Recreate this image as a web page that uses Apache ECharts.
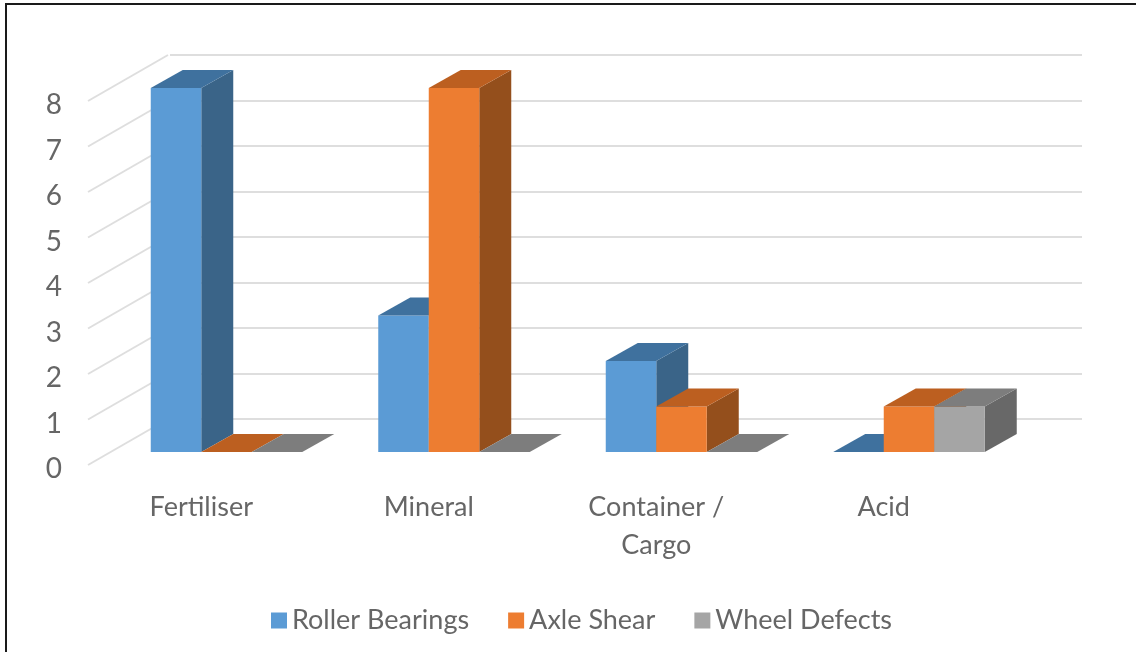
<!DOCTYPE html>
<html>
<head>
<meta charset="utf-8">
<style>html,body{margin:0;padding:0;background:#fff}#chart{width:1136px;height:652px}</style>
<script src="https://cdn.jsdelivr.net/npm/echarts@6/dist/echarts.min.js"></script>
</head>
<body>
<div id="chart"></div>
<script>
const categories = ['Fertiliser', 'Mineral', 'Container /\nCargo', 'Acid'];
const rollerBearings = [8, 3, 2, 0];
const axleShear = [0, 8, 1, 1];
const wheelDefects = [0, 0, 0, 1];
const yTicks = [0, 1, 2, 3, 4, 5, 6, 7, 8];

const FONT = 'Lato, "Open Sans", sans-serif';
const TEXT = '#666666';
const GRID_LINE = '#dedede';
// Oblique projection used for the bar depth and for the side wall.
const BAR_W = 50.5, BAR_DX = 32, BAR_DY = -18;
const WALL_DX = 80, WALL_DY = -46;
// Tick labels sit slightly below the start of their wall lines.
const LABEL_DROP = 4;

function barSeries(name, data, slot, front, top, side) {
  return {
    name,
    type: 'custom',
    xAxisIndex: 0,
    yAxisIndex: 0,
    silent: true,
    z: 5 + slot,
    itemStyle: { color: front },
    data: data.map((v, i) => [i, v]),
    encode: { x: 0, y: 1 },
    renderItem(params, api) {
      const tip = api.coord([api.value(0), api.value(1)]);
      const base = api.coord([api.value(0), 0]);
      const x0 = tip[0] - BAR_W + slot * BAR_W;
      const x1 = x0 + BAR_W;
      const poly = (points, fill) => ({
        type: 'polygon',
        shape: { points },
        style: { fill, stroke: null }
      });
      const children = [];
      if (api.value(1) > 0) {
        children.push(poly([[x1, tip[1]], [x1 + BAR_DX, tip[1] + BAR_DY], [x1 + BAR_DX, base[1] + BAR_DY], [x1, base[1]]], side));
        children.push(poly([[x0, tip[1]], [x1, tip[1]], [x1, base[1]], [x0, base[1]]], front));
      }
      children.push(poly([[x0, tip[1]], [x1, tip[1]], [x1 + BAR_DX, tip[1] + BAR_DY], [x0 + BAR_DX, tip[1] + BAR_DY]], top));
      return { type: 'group', children };
    }
  };
}

// Receding gridlines on the left wall, one per tick.
const wallSeries = {
  type: 'custom',
  xAxisIndex: 2,
  yAxisIndex: 2,
  silent: true,
  z: 1,
  data: yTicks.map(v => [0, v]),
  encode: { x: 0, y: 1 },
  renderItem(params, api) {
    const p = api.coord([0, api.value(1)]);
    const y = p[1] - LABEL_DROP;
    return {
      type: 'line',
      shape: { x1: p[0], y1: y, x2: p[0] + WALL_DX, y2: y + WALL_DY },
      style: { stroke: GRID_LINE, lineWidth: 2 }
    };
  }
};

const chart = echarts.init(document.getElementById('chart'), null, { renderer: 'canvas' });
chart.setOption({
  animation: false,
  backgroundColor: '#ffffff',
  graphic: [{
    type: 'rect',
    shape: { x: 6, y: 4, width: 1300, height: 800 },
    style: { fill: 'none', stroke: '#1a1a1a', lineWidth: 2 },
    silent: true
  }],
  legend: {
    left: 266,
    top: 602,
    itemWidth: 16,
    itemHeight: 16,
    itemGap: 39,
    icon: 'rect',
    selectedMode: false,
    textStyle: { fontFamily: FONT, fontSize: 27, color: TEXT },
    data: ['Roller Bearings', 'Axle Shear', 'Wheel Defects']
  },
  grid: [
    { left: 87.5, width: 910, top: 88, height: 364 },   // bar plane
    { left: 170, width: 912, top: 55, height: 364 },    // back wall
    { left: 88, width: 80, top: 101 + LABEL_DROP, height: 364 } // front edge of the side wall
  ],
  xAxis: [
    {
      type: 'category',
      gridIndex: 0,
      data: categories,
      axisLine: { show: false },
      axisTick: { show: false },
      axisLabel: {
        interval: 0,
        margin: 36,
        fontFamily: FONT,
        fontSize: 27,
        lineHeight: 38,
        color: TEXT
      }
    },
    { type: 'value', gridIndex: 1, min: 0, max: 1, show: false },
    { type: 'value', gridIndex: 2, min: 0, max: 1, show: false }
  ],
  yAxis: [
    { type: 'value', gridIndex: 0, min: 0, max: 8, interval: 1, show: false },
    {
      type: 'value',
      gridIndex: 1,
      min: 0,
      max: 8,
      interval: 1,
      axisLine: { show: false },
      axisTick: { show: false },
      axisLabel: { show: false },
      splitLine: { show: true, lineStyle: { color: GRID_LINE, width: 2 } }
    },
    {
      type: 'value',
      gridIndex: 2,
      min: 0,
      max: 8,
      interval: 1,
      axisLine: { show: false },
      axisTick: { show: false },
      splitLine: { show: false },
      axisLabel: {
        margin: 26,
        fontFamily: FONT,
        fontSize: 28,
        color: TEXT
      }
    }
  ],
  series: [
    wallSeries,
    barSeries('Roller Bearings', rollerBearings, 0, '#5b9bd5', '#3f719e', '#3a6488'),
    barSeries('Axle Shear', axleShear, 1, '#ed7d31', '#bc5f20', '#944f1c'),
    barSeries('Wheel Defects', wheelDefects, 2, '#a5a5a5', '#7d7d7d', '#686868')
  ]
});
</script>
</body>
</html>
